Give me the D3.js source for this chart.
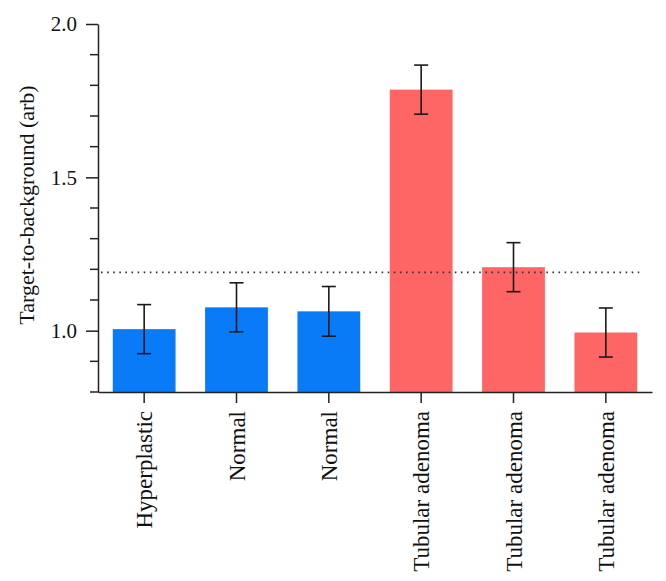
<!DOCTYPE html>
<html>
<head>
<meta charset="utf-8">
<script src="https://cdn.jsdelivr.net/npm/d3@7"></script>
<style>
  body { margin: 0; background: white; }
  .axis path, .axis line { stroke: #222; stroke-width: 1.5px; }
  .axis text { font-family: "Liberation Serif", "DejaVu Serif", serif; fill: #111; }
</style>
</head>
<body>
<div id="chart"></div>
<script>
// tissue type per bar
var categories = ["Hyperplastic", "Normal", "Normal", "Tubular adenoma", "Tubular adenoma", "Tubular adenoma"];
var groups = ["normal", "normal", "normal", "adenoma", "adenoma", "adenoma"];
var values = [1.005, 1.076, 1.063, 1.786, 1.207, 0.994];
var errors = [0.080, 0.080, 0.081, 0.080, 0.080, 0.080];
var threshold = 1.19;
var yMajorTicks = [1.0, 1.5, 2.0];
var yMinorTicks = [0.8, 0.9, 1.1, 1.2, 1.3, 1.4, 1.6, 1.7, 1.8, 1.9];

var width = 666, height = 581;
var plotLeft = 98, plotRight = 652, plotTop = 24, plotBottom = 392;

var colors = { normal: "#0a7bf7", adenoma: "#fe6666" };

var svg = d3.select("#chart").append("svg")
    .attr("width", width)
    .attr("height", height)
    .style("background", "white");

var x = d3.scaleBand()
    .domain(d3.range(categories.length))
    .range([plotLeft, plotRight])
    .paddingInner(0.32)
    .paddingOuter(0.16);

var y = d3.scaleLinear().domain([0.8, 2.0]).range([plotBottom, plotTop]);

// bars
svg.selectAll("rect.bar")
    .data(values)
    .enter()
    .append("rect")
    .attr("class", "bar")
    .attr("x", function(d, i) { return x(i); })
    .attr("width", x.bandwidth())
    .attr("y", function(d) { return y(d); })
    .attr("height", function(d) { return plotBottom - y(d); })
    .attr("fill", function(d, i) { return colors[groups[i]]; });

// threshold line
svg.append("line")
    .attr("x1", plotLeft + 3)
    .attr("x2", x(5) + x.bandwidth() + 2)
    .attr("y1", y(threshold))
    .attr("y2", y(threshold))
    .attr("stroke", "#333")
    .attr("stroke-width", 1.6)
    .attr("stroke-dasharray", "1.6,4.5");

// error bars
var eb = svg.selectAll("g.err")
    .data(values)
    .enter()
    .append("g")
    .attr("class", "err")
    .attr("stroke", "#1a1a1a")
    .attr("stroke-width", 1.6);

eb.append("line")
    .attr("x1", function(d, i) { return x(i) + x.bandwidth() / 2; })
    .attr("x2", function(d, i) { return x(i) + x.bandwidth() / 2; })
    .attr("y1", function(d, i) { return y(d + errors[i]); })
    .attr("y2", function(d, i) { return y(d - errors[i]); });

[1, -1].forEach(function(s) {
    eb.append("line")
        .attr("x1", function(d, i) { return x(i) + x.bandwidth() / 2 - 7; })
        .attr("x2", function(d, i) { return x(i) + x.bandwidth() / 2 + 7; })
        .attr("y1", function(d, i) { return y(d + s * errors[i]); })
        .attr("y2", function(d, i) { return y(d + s * errors[i]); });
});

// y axis
var yAxis = d3.axisLeft(y)
    .tickValues(yMajorTicks)
    .tickSize(12)
    .tickPadding(9)
    .tickSizeOuter(0)
    .tickFormat(d3.format(".1f"));

var gy = svg.append("g")
    .attr("class", "axis")
    .attr("transform", "translate(" + plotLeft + ",0)")
    .call(yAxis);
gy.selectAll("text").attr("font-size", "21px");

gy.selectAll("line.minor")
    .data(yMinorTicks)
    .enter()
    .append("line")
    .attr("class", "minor")
    .attr("x1", -8)
    .attr("x2", 0)
    .attr("y1", function(d) { return y(d); })
    .attr("y2", function(d) { return y(d); });

// x axis
var xAxis = d3.axisBottom(x)
    .tickSize(11)
    .tickSizeOuter(0)
    .tickFormat(function(i) { return categories[i]; });

var gx = svg.append("g")
    .attr("class", "axis")
    .attr("transform", "translate(0," + plotBottom + ")")
    .call(xAxis);

gx.selectAll("text")
    .attr("font-size", "23px")
    .attr("text-anchor", "end")
    .attr("transform", "rotate(-90)")
    .attr("x", -19)
    .attr("y", 0)
    .attr("dy", "0.35em");

// y title
svg.append("text")
    .attr("text-anchor", "middle")
    .attr("transform", "translate(26," + ((85 + 325) / 2) + ")rotate(-90)")
    .attr("font-family", "Liberation Serif, DejaVu Serif, serif")
    .attr("font-size", "22px")
    .attr("fill", "#111")
    .attr("dy", "0.35em")
    .text("Target-to-background (arb)");
</script>
</body>
</html>
